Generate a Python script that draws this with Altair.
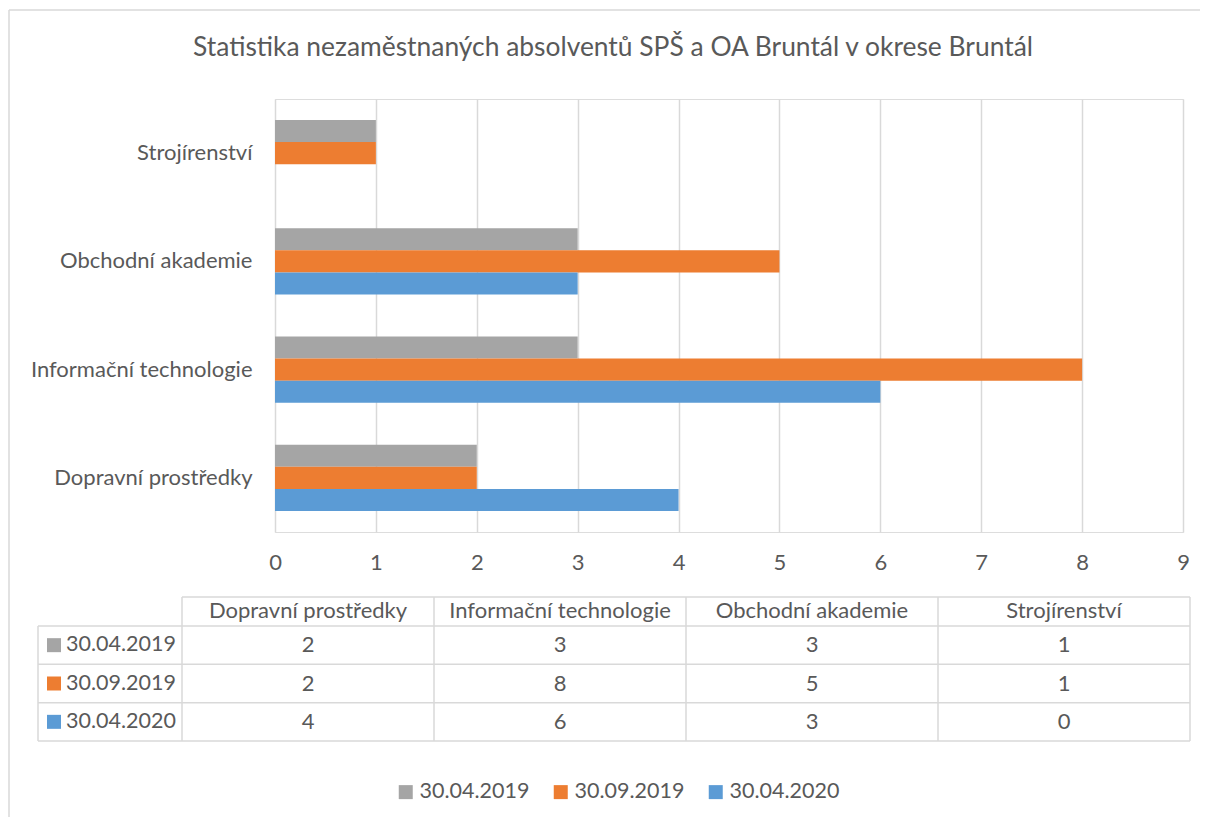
import altair as alt
import pandas as pd

categories = ["Dopravní prostředky", "Informační technologie", "Obchodní akademie", "Strojírenství"]
series = ["30.04.2019", "30.09.2019", "30.04.2020"]
colors = ["#a5a5a5", "#ed7d31", "#5b9bd5"]
v_2019_04 = [2, 3, 3, 1]
v_2019_09 = [2, 8, 5, 1]
v_2020_04 = [4, 6, 3, 0]
ticks = [0, 1, 2, 3, 4, 5, 6, 7, 8, 9]
title = "Statistika nezaměstnaných absolventů SPŠ a OA Bruntál v okrese Bruntál"

rows = []
for s, vals in zip(series, [v_2019_04, v_2019_09, v_2020_04]):
    for c, v in zip(categories, vals):
        rows.append({"series": s, "category": c, "value": v})
df = pd.DataFrame(rows)
cat_df = pd.DataFrame({"category": categories})
ser_df = pd.DataFrame({"series": series})
one = pd.DataFrame({"a": [0]})

FONT = "Lato"
TXT = "#595959"
GRID = "#d9d9d9"
FS = 22

color_scale = alt.Scale(domain=series, range=colors)

# ---- bar chart ----
bars = alt.Chart(df).mark_bar().encode(
    y=alt.Y("category:N", sort=categories[::-1],
            scale=alt.Scale(paddingInner=0.39, paddingOuter=0.195),
            axis=alt.Axis(title=None, labelFontSize=FS, labelColor=TXT, labelFont=FONT,
                          labelPadding=23, labelLimit=400, ticks=False, domain=False, grid=False)),
    yOffset=alt.YOffset("series:N", sort=series,
                        scale=alt.Scale(domain=series, paddingInner=0, paddingOuter=0)),
    x=alt.X("value:Q", scale=alt.Scale(domain=[0, 9], nice=False),
            axis=alt.Axis(title=None, values=ticks, grid=True, gridColor=GRID, gridWidth=1.5,
                          domain=False, ticks=False, labelPadding=20, labelFontSize=FS,
                          labelFlush=False, labelColor=TXT, labelFont=FONT)),
    color=alt.Color("series:N", scale=color_scale,
                    legend=alt.Legend(orient="none", direction="horizontal", title=None,
                                      legendX=120, legendY=682, symbolType="square",
                                      symbolSize=196, symbolStrokeWidth=0, symbolOpacity=1,
                                      labelFontSize=21.5, labelColor=TXT, labelFont=FONT,
                                      labelOffset=3, columnPadding=20, padding=0)),
)

title_mark = alt.Chart(one).mark_text(fontSize=26.4, color=TXT, font=FONT, align="center",
                                      baseline="middle").encode(
    x=alt.value(338), y=alt.value(-51), text=alt.value(title))

border_top = alt.Chart(one).mark_rule(color="#d9d9d9", strokeWidth=1.5).encode(
    x=alt.value(-266), x2=alt.value(960), y=alt.value(-89))
border_left = alt.Chart(one).mark_rule(color="#d9d9d9", strokeWidth=1.5).encode(
    x=alt.value(-266), y=alt.value(-89), y2=alt.value(740))

top = alt.layer(border_top, border_left, title_mark, bars)

# ---- data table ----
tx_scale = alt.Scale(domain=categories, range=[-93, 915], paddingInner=0, paddingOuter=0)
ty_scale = alt.Scale(domain=series, range=[527, 642], paddingInner=0, paddingOuter=0)

def tx(**kw):
    return alt.X("category:N", scale=tx_scale, axis=None, **kw)

def ty(**kw):
    return alt.Y("series:N", scale=ty_scale, axis=None, **kw)

LINE = dict(color="#d9d9d9", strokeWidth=1.5)

row_lines = alt.Chart(ser_df).mark_rule(**LINE).encode(
    y=ty(bandPosition=0), x=alt.value(-237), x2=alt.value(915))
bottom_line = alt.Chart(one).mark_rule(**LINE).encode(
    y=alt.value(642), x=alt.value(-237), x2=alt.value(915))
header_line = alt.Chart(one).mark_rule(**LINE).encode(
    y=alt.value(498), x=alt.value(-93), x2=alt.value(915))
col_lines = alt.Chart(cat_df).mark_rule(**LINE).encode(
    x=tx(bandPosition=0), y=alt.value(498), y2=alt.value(642))
right_line = alt.Chart(one).mark_rule(**LINE).encode(
    x=alt.value(915), y=alt.value(498), y2=alt.value(642))
left_line = alt.Chart(one).mark_rule(**LINE).encode(
    x=alt.value(-237), y=alt.value(527), y2=alt.value(642))

header = alt.Chart(cat_df).mark_text(fontSize=FS, color=TXT, font=FONT, baseline="middle").encode(
    x=tx(), y=alt.value(512), text="category:N")
values = alt.Chart(df).mark_text(fontSize=FS, color=TXT, font=FONT, baseline="middle").encode(
    x=tx(), y=ty(), text="value:Q")
labels = alt.Chart(ser_df).mark_text(fontSize=21.5, color=TXT, font=FONT, align="left",
                                     baseline="middle").encode(
    x=alt.value(-209), y=ty(), text="series:N")
swatches = alt.Chart(ser_df).mark_square(size=196, opacity=1, strokeWidth=0).encode(
    x=alt.value(-221), y=ty(),
    color=alt.Color("series:N", scale=color_scale, legend=None))

table = alt.layer(row_lines, bottom_line, header_line, col_lines, right_line, left_line,
                  header, values, labels, swatches)

chart = alt.layer(top, table).resolve_scale(
    x="independent", y="independent", color="independent"
).properties(
    width=908, height=433,
    autosize=alt.AutoSizeParams(type="none"),
    padding={"left": 267, "top": 91, "right": 17, "bottom": 285},
).configure_view(stroke=None).configure(font=FONT)

chart.save("out.html", embed_options={"renderer": "svg", "actions": False})
